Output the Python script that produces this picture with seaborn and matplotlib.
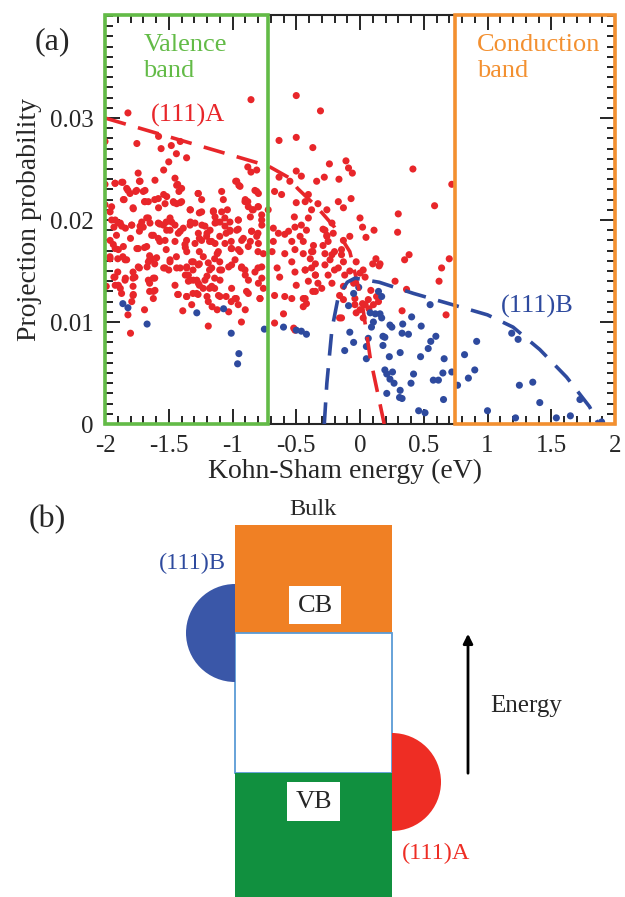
import numpy as np
import pandas as pd
import matplotlib
matplotlib.use("Agg")
import matplotlib.pyplot as plt
from matplotlib.patches import Rectangle, Wedge
from matplotlib.ticker import MultipleLocator
import seaborn as sns

# ---- data (panel a) ----
red_x = [
    -1.82, -2.0, -1.75, -1.58, -1.56, -1.48, -1.41, -1.44, -1.36, -1.50, -1.54, -1.74, -1.43, -1.92, -1.86,
    -1.73, -1.82, -1.76, -1.70, -1.85, -1.27, -1.42, -1.54, -1.69, -1.61, -1.46, -1.41, -1.78, -1.58, -1.33,
    -1.26, -1.15, -1.96, -1.92, -1.88, -1.49, -1.52, -1.57, -1.66, -1.70, -1.79, -1.84, -1.93, -1.33, -1.24,
    -1.12, -1.06, -1.20, -1.41, -1.49, -1.62, -1.73, -1.91, -1.96, -1.36, -1.26, -1.18, -1.10, -1.05, -1.80,
    -1.57, -1.92, -1.75, -1.69, -1.52, -1.37, -1.26, -1.12, -1.86, -1.65, -1.44, -2.0, -2.0,
    # lower-left block
    -1.96, -1.90, -1.83, -1.65, -1.61, -1.49, -1.32, -1.26, -1.14, -1.10, -1.90, -1.78, -1.73, -1.67, -1.54,
    -1.50, -1.41, -1.36, -1.31, -1.18, -1.10, -1.93, -1.84, -1.78, -1.61, -1.37, -1.33, -1.28, -1.20, -1.14,
    -1.99, -1.92, -1.88, -1.78, -1.65, -1.62, -1.65, -1.26, -1.23, -1.18, -1.14, -1.87, -1.43, -1.36, -1.31,
    -1.27, -1.20, -1.11, -1.05, -1.78, -1.79, -1.19, -1.32, -1.16, -1.12, -1.69, -1.39, -1.82, -1.19, -1.80,
    -2.0,
    # middle upper block
    -0.855, -0.50, -0.31, -0.635, -0.50, -0.37, -0.88, -0.855, -0.81, -0.975, -0.95, -0.635, -0.50, -0.46,
    -0.55, -0.34, -0.28, -0.24, -0.165, -0.11, -0.09, -0.06, -0.81, -0.67, -0.615, -0.405, -0.90, -0.88,
    -0.50, -0.43, -0.38, -0.33, -0.26, -0.17, -0.07, -0.13, -0.80, -0.845, -0.72, -1.04, -0.86, -0.955,
    -1.02, -0.77, -0.515, -0.405, -0.22, -1.02, -0.955, -0.85, -0.80, -0.68, -0.64, -0.59, -0.56, -0.51,
    -0.46, -0.47, -0.275, -0.26, -0.21, -0.13, -0.08, -1.01, -0.915, -0.86, -0.68, -0.535, -0.445, -0.365,
    -0.29, -1.01, -0.94, -0.80, -0.69, -0.59, -0.51, -0.38, -0.20, -0.145,
    # middle lower block
    -1.03, -0.98, -0.93, -0.90, -0.875, -0.80, -0.77, -0.89, -0.97, -1.01, -0.955, -0.90, -0.93, -0.785,
    -1.03, -0.65, -0.63, -0.535, -0.51, -0.43, -0.38, -0.35, -0.275, -0.25, -0.17, -0.12, -0.67, -0.59,
    -0.535, -0.43, -0.445, -0.35, -0.30, -0.50, -0.60, -0.67, -0.52, -0.16, -0.51,
    -0.42, -0.29, -0.26, -0.25, -0.37, -0.445, -0.39, -0.35, -0.275, -0.22, -0.235, -0.145, -0.13, -0.20,
    -0.43, -0.35, -0.405, -0.33, -0.37, -0.445, -0.42, -0.16, -0.13, -0.22, -0.08, -0.05, 0.0, -0.13,
    -0.04, 0.02, -0.145, 0.10, 0.085, 0.15, 0.065, 0.0, 0.07,
    # right side
    0.415, 0.72, 0.585, 0.30, 0.295, 0.0, 0.02, 0.11, 0.047, 0.125, 0.385, 0.35, 0.70, -0.03, 0.157,
    0.025, 0.04, 0.13, 0.145, -0.04, 0.04, 0.105, -0.03, 0.025, 0.64, 0.62, 0.675, 0.275, 0.365, 0.33,
]
red_y = [
    0.0305, 0.0277, 0.0275, 0.0282, 0.0270, 0.0273, 0.0277, 0.0265, 0.0261, 0.0257, 0.0249, 0.0246, 0.0235, 0.0236, 0.0237,
    0.0238, 0.0229, 0.0228, 0.0228, 0.0220, 0.0226, 0.0228, 0.0225, 0.0218, 0.0220, 0.0217, 0.0217, 0.0212, 0.0212, 0.0210,
    0.0207, 0.0209, 0.0208, 0.0200, 0.0197, 0.0202, 0.0198, 0.0196, 0.0202, 0.0193, 0.0195, 0.0192, 0.0193, 0.0198, 0.0195,
    0.0198, 0.0202, 0.0187, 0.0189, 0.0190, 0.0185, 0.0189, 0.0185, 0.0180, 0.0180, 0.0182, 0.0179, 0.0184, 0.0187, 0.0182,
    0.0179, 0.0172, 0.0172, 0.0173, 0.0171, 0.0173, 0.0169, 0.0167, 0.0164, 0.0165, 0.0164, 0.0235, 0.0215,
    0.0162, 0.0162, 0.0161, 0.0161, 0.0157, 0.0161, 0.0159, 0.0157, 0.0162, 0.0159, 0.0149, 0.0149, 0.0153, 0.0154, 0.0153,
    0.0151, 0.0153, 0.0153, 0.0151, 0.0151, 0.0151, 0.0144, 0.0143, 0.0143, 0.0143, 0.0146, 0.0141, 0.0141, 0.0145, 0.0143,
    0.0135, 0.0136, 0.0133, 0.0135, 0.0138, 0.0130, 0.0130, 0.0136, 0.0133, 0.0133, 0.0133, 0.0128, 0.0127, 0.0125, 0.0128,
    0.0127, 0.0125, 0.0126, 0.0125, 0.0126, 0.0120, 0.0120, 0.0117, 0.0115, 0.0112, 0.0112, 0.0111, 0.0107, 0.0096, 0.0089,
    0.0135,
    0.0318, 0.0322, 0.0307, 0.0278, 0.0281, 0.0271, 0.0252, 0.0247, 0.0249, 0.0238, 0.0234, 0.0242, 0.0248, 0.0243,
    0.0238, 0.0238, 0.0242, 0.0255, 0.0240, 0.0258, 0.0251, 0.0246, 0.0228, 0.0228, 0.0225, 0.0225, 0.0220, 0.0218,
    0.0217, 0.0218, 0.0210, 0.0216, 0.0210, 0.0218, 0.0221, 0.0212, 0.0213, 0.0210, 0.0210, 0.0210, 0.0203, 0.0200,
    0.0198, 0.0195, 0.0203, 0.0202, 0.0197, 0.0190, 0.0191, 0.0189, 0.0187, 0.0192, 0.0187, 0.0186, 0.0189, 0.0193,
    0.0195, 0.0184, 0.0190, 0.0184, 0.0187, 0.0180, 0.0184, 0.0179, 0.0182, 0.0179, 0.0179, 0.0179, 0.0179, 0.0175,
    0.0175, 0.0172, 0.0169, 0.0169, 0.0169, 0.0167, 0.0171, 0.0169, 0.0169, 0.0166,
    0.0154, 0.0161, 0.0153, 0.0146, 0.0141, 0.0153, 0.0143, 0.0130, 0.0123, 0.0120, 0.0117, 0.0112, 0.0100, 0.0123,
    0.0110, 0.0153, 0.0144, 0.0159, 0.0149, 0.0151, 0.0153, 0.0146, 0.0156, 0.0146, 0.0153, 0.0146, 0.0126, 0.0125,
    0.0123, 0.0123, 0.0115, 0.0130, 0.0133, 0.0136, 0.0108, 0.0099, 0.0094, 0.0104, 0.0092,
    0.0190, 0.0191, 0.0185, 0.0179, 0.0169, 0.0167, 0.0162, 0.0157, 0.0167, 0.0166, 0.0161, 0.0171, 0.0159, 0.0151,
    0.0151, 0.0146, 0.0140, 0.0138, 0.0130, 0.0123, 0.0118, 0.0126, 0.0122, 0.0138, 0.0150, 0.0138, 0.0148, 0.0135,
    0.0123, 0.0118, 0.0104, 0.0157, 0.0131, 0.0155, 0.0122, 0.0112, 0.0113,
    0.0250, 0.0235, 0.0214, 0.0206, 0.0188, 0.0202, 0.0193, 0.0190, 0.0183, 0.0162, 0.0166, 0.0161, 0.0162, 0.0159, 0.0157,
    0.0151, 0.0144, 0.0125, 0.0120, 0.0117, 0.0117, 0.0117, 0.0109, 0.0104, 0.0153, 0.0140, 0.0107, 0.0140, 0.0132, 0.0111,
]

# extra points from the dense part of the valence window
red_dense_x = [
    -1.922, -1.869, -1.830, -1.804, -1.752, -1.725, -1.686, -1.608, -1.451, -1.438, -1.399, -1.268, -1.242,
    -1.085, -1.072, -0.967, -0.941, -0.824, -0.797,
    -1.948, -1.856, -1.778, -1.686, -1.660, -1.582, -1.529, -1.516, -1.464, -1.438, -1.399, -1.333, -1.242,
    -1.150, -1.137, -1.085, -0.902, -0.876, -0.837, -0.797, -0.771,
    -1.948, -1.895, -1.869, -1.791, -1.725, -1.712, -1.673, -1.647, -1.582, -1.542, -1.516, -1.477, -1.451,
    -1.386, -1.333, -1.294, -1.268, -1.216, -1.176, -1.137, -1.098, -1.059, -1.020, -0.967, -0.954, -0.850,
    -0.810, -0.771,
    -1.935, -1.895, -1.856, -1.739, -1.673, -1.634, -1.582, -1.529, -1.451, -1.425, -1.373, -1.359, -1.294,
    -1.242, -1.203, -1.163, -1.137, -1.111, -1.059, -1.007, -0.954, -0.928, -0.876, -0.797, -0.758, -1.961,
    -1.843,
    -1.739, -1.660, -1.634, -1.595, -1.529, -1.490, -1.438, -1.359, -1.307, -1.268, -1.229, -1.190, -1.163,
    -1.085, -1.007, -0.928, -0.902, -0.824, -0.771, -1.765, -1.922, -1.346,
    -1.895, -1.843, -1.660, -1.621, -1.608, -1.451, -1.346, -1.307, -1.268, -1.216, -1.163, -1.098, -1.007,
    -0.980, -0.876, -0.797, -0.758, -1.778, -1.621, -1.425, -1.359, -1.281, -1.098, -0.784,
]
red_dense_y = [
    0.0236, 0.0237, 0.0231, 0.0226, 0.0229, 0.0238, 0.0229, 0.0239, 0.0241, 0.0234, 0.0231, 0.0226, 0.0220,
    0.0228, 0.0220, 0.0238, 0.0233, 0.0229, 0.0226,
    0.0213, 0.0220, 0.0211, 0.0218, 0.0218, 0.0221, 0.0216, 0.0223, 0.0218, 0.0216, 0.0218, 0.0210, 0.0208,
    0.0208, 0.0203, 0.0208, 0.0218, 0.0213, 0.0210, 0.0213, 0.0205,
    0.0200, 0.0197, 0.0194, 0.0195, 0.0194, 0.0198, 0.0202, 0.0197, 0.0197, 0.0195, 0.0190, 0.0198, 0.0195,
    0.0192, 0.0195, 0.0197, 0.0187, 0.0194, 0.0190, 0.0197, 0.0198, 0.0194, 0.0189, 0.0190, 0.0200, 0.0189,
    0.0184, 0.0200,
    0.0176, 0.0171, 0.0174, 0.0172, 0.0174, 0.0185, 0.0182, 0.0180, 0.0179, 0.0187, 0.0176, 0.0169, 0.0177,
    0.0180, 0.0184, 0.0179, 0.0177, 0.0169, 0.0177, 0.0172, 0.0171, 0.0180, 0.0174, 0.0177, 0.0167, 0.0164,
    0.0161,
    0.0154, 0.0159, 0.0162, 0.0163, 0.0153, 0.0159, 0.0153, 0.0154, 0.0159, 0.0156, 0.0164, 0.0158, 0.0153,
    0.0151, 0.0156, 0.0154, 0.0151, 0.0149, 0.0154, 0.0144, 0.0144, 0.0146,
    0.0136, 0.0141, 0.0141, 0.0143, 0.0131, 0.0136, 0.0140, 0.0141, 0.0138, 0.0141, 0.0135, 0.0141, 0.0133,
    0.0123, 0.0128, 0.0138, 0.0133, 0.0127, 0.0123, 0.0127, 0.0125, 0.0128, 0.0125, 0.0123,
]

blue_x = [
    -1.86, -1.82, -1.67, -1.28, -1.07, -1.01, -0.95, -0.96, -0.75, -0.60, -0.50, -0.46, -0.42,
    -0.09, -0.08, -0.05, -0.12, -0.01, -0.05, 0.145, 0.17, 0.55, 0.405, 0.48, 0.335, 0.33, 0.38, 0.235,
    0.25, 0.08, 0.12, 0.157, 0.17, 0.105, 0.09, 0.18, 0.195, 0.065, 0.05, 0.05, 0.18, 0.23, 0.315, 0.475,
    0.535, 0.555, 0.595, 0.66, 0.195, 0.21, 0.255, 0.235, 0.267, 0.315, 0.31, 0.33, 0.21, 0.42, 0.40,
    0.575, 0.615, 0.65, 0.72, 0.655, 0.46, 0.51, 0.765, 0.82, 0.90, 0.915, 0.85, 1.0, 1.19, 1.24, 1.25,
    1.355, 1.41, 1.22, 1.54, 1.65, 1.725, 1.895,
]
blue_y = [
    0.0118, 0.0114, 0.0098, 0.0109, 0.0113, 0.0089, 0.0069, 0.0059, 0.0093, 0.0095, 0.0092, 0.0091, 0.0088,
    0.0116, 0.0090, 0.0080, 0.0072, 0.0134, 0.0128, 0.0130, 0.0125, 0.0117, 0.0105, 0.0096, 0.0098, 0.0089, 0.0088, 0.0097,
    0.0095, 0.0109, 0.0108, 0.0108, 0.0104, 0.0100, 0.0095, 0.0086, 0.0085, 0.0084, 0.0076, 0.0064, 0.0077, 0.0066, 0.0070, 0.0066,
    0.0074, 0.0081, 0.0086, 0.0064, 0.0053, 0.0049, 0.0051, 0.0044, 0.0040, 0.0033, 0.0026, 0.0025, 0.0030, 0.0049, 0.0040,
    0.0043, 0.0043, 0.0050, 0.0051, 0.0024, 0.0013, 0.0011, 0.0038, 0.0068, 0.0053, 0.0081, 0.0045, 0.0013, 0.0089, 0.0083, 0.0038,
    0.0041, 0.0021, 0.0006, 0.0006, 0.0008, 0.0024, 0.0002,
]

# hand-drawn guide lines
guide_a_x = [-2.0, -0.72, -0.55, -0.49, -0.34, -0.20, -0.08, 0.015, 0.08, 0.19]
guide_a_y = [0.0300, 0.0253, 0.0241, 0.0231, 0.0213, 0.0193, 0.0169, 0.0120, 0.0065, 0.0]
guide_b_x = [-0.28, -0.26, -0.22, -0.17, -0.10, -0.04, 0.15, 0.42, 0.78, 1.0, 1.2, 1.41, 1.62, 1.80, 1.87]
guide_b_y = [0.0, 0.0040, 0.0093, 0.0125, 0.0139, 0.0143, 0.0139, 0.0128, 0.0115, 0.0107, 0.0095, 0.0073, 0.0046, 0.0017, 0.0]

x_ticks = [-2, -1.5, -1, -0.5, 0, 0.5, 1, 1.5, 2]
x_tick_labels = ["-2", "-1.5", "-1", "-0.5", "0", "0.5", "1", "1.5", "2"]
y_ticks = [0, 0.01, 0.02, 0.03]
y_tick_labels = ["0", "0.01", "0.02", "0.03"]

valence_range = (-2.0, -0.72)
conduction_range = (0.745, 2.0)

RED = "#e8262a"
BLUE = "#2e4a9e"
GREEN = "#63bb47"
ORANGE = "#f39030"

sns.set_style("ticks")
plt.rcParams["font.family"] = ["Liberation Serif", "DejaVu Serif"]
plt.rcParams["axes.unicode_minus"] = False

fig = plt.figure(figsize=(6.25, 8.97), dpi=100)
ax = fig.add_axes([105 / 625, 1 - 424 / 897, 510 / 625, 409 / 897])

df = pd.concat([
    pd.DataFrame({"energy": red_x + red_dense_x, "prob": red_y + red_dense_y, "facet": "(111)A"}),
    pd.DataFrame({"energy": blue_x, "prob": blue_y, "facet": "(111)B"}),
])
sns.scatterplot(data=df, x="energy", y="prob", hue="facet",
                palette={"(111)A": RED, "(111)B": BLUE},
                s=26, linewidth=0, legend=False, ax=ax, zorder=3)

sns.lineplot(x=guide_a_x, y=guide_a_y, sort=False, estimator=None, color=RED,
             lw=2.6, ax=ax, zorder=4).lines[-1].set_dashes([6, 3.5])
sns.lineplot(x=guide_b_x, y=guide_b_y, sort=False, estimator=None, color=BLUE,
             lw=2.6, ax=ax, zorder=4).lines[-1].set_dashes([6, 3.5])

ax.set_xlim(-2, 2)
ax.set_ylim(0, 0.0401)
ax.set_xticks(x_ticks)
ax.set_xticklabels(x_tick_labels)
ax.set_yticks(y_ticks)
ax.set_yticklabels(y_tick_labels)
ax.xaxis.set_minor_locator(MultipleLocator(0.1))
ax.yaxis.set_minor_locator(MultipleLocator(0.001))
ax.tick_params(which="both", direction="in", top=True, right=True,
               labelsize=18, width=1.2, color="black")
ax.tick_params(which="major", length=11, pad=8)
ax.tick_params(which="minor", length=6)
for sp in ax.spines.values():
    sp.set_linewidth(1.5)
ax.set_xlabel("Kohn-Sham energy (eV)", fontsize=20, labelpad=0)
ax.xaxis.set_label_coords(0.47, -0.085)
ax.set_ylabel("Projection probability", fontsize=20, labelpad=6)

# band windows
top = ax.get_ylim()[1]
ax.add_patch(Rectangle((valence_range[0], 0), valence_range[1] - valence_range[0], top,
                       fill=False, ec=GREEN, lw=2.6, clip_on=False, zorder=5))
ax.add_patch(Rectangle((conduction_range[0], 0), conduction_range[1] - conduction_range[0], top,
                       fill=False, ec=ORANGE, lw=2.6, clip_on=False, zorder=5))
ax.text(-1.70, 0.0382, "Valence\nband", color=GREEN, fontsize=19, va="top", ha="left", linespacing=1.2)
ax.text(0.92, 0.0382, "Conduction\nband", color=ORANGE, fontsize=19, va="top", ha="left", linespacing=1.2)
ax.text(-1.35, 0.0303, "(111)A", color=RED, fontsize=19, ha="center", va="center")
ax.text(1.39, 0.0115, "(111)B", color=BLUE, fontsize=19, ha="center", va="center")

fig.text(52 / 625, 1 - 42 / 897, "(a)", fontsize=23, ha="center", va="center")
fig.text(47 / 625, 1 - 520 / 897, "(b)", fontsize=23, ha="center", va="center")

# ---- panel b: schematic (pixel coordinates) ----
bx = fig.add_axes([0, 0, 1, 1 - 470 / 897])
bx.set_xlim(0, 625)
bx.set_ylim(897, 470)
bx.axis("off")

col_left, col_right = 235, 392
cb_top, gap_top, gap_bot, vb_bot = 525, 633, 773, 897
w = col_right - col_left
bx.add_patch(Rectangle((col_left, cb_top), w, gap_top - cb_top, fc="#f08024", ec="none"))
bx.add_patch(Rectangle((col_left, gap_top), w, gap_bot - gap_top, fc="white", ec="#5b9bd5", lw=1.3))
bx.add_patch(Rectangle((col_left, gap_bot), w, vb_bot - gap_bot, fc="#11903f", ec="none"))
bx.add_patch(Wedge((col_left, 633), 49, 90, 270, fc="#3a57a8", ec="none"))
bx.add_patch(Wedge((col_right, 782), 49, -90, 90, fc="#ee2d24", ec="none"))
bx.add_patch(Rectangle((289, 586), 52, 38, fc="white", ec="none"))
bx.add_patch(Rectangle((287, 782), 53, 39, fc="white", ec="none"))
bx.text(315, 606, "CB", fontsize=19, ha="center", va="center")
bx.text(314, 802, "VB", fontsize=19, ha="center", va="center")
bx.text(313, 509, "Bulk", fontsize=17.5, ha="center", va="center")
bx.text(192, 563, "(111)B", fontsize=17.5, ha="center", va="center", color=BLUE)
bx.text(436, 853, "(111)A", fontsize=17.5, ha="center", va="center", color="#ee2d24")
bx.text(490, 706, "Energy", fontsize=18, ha="left", va="center")
bx.annotate("", xy=(468, 631), xytext=(468, 776),
            arrowprops=dict(arrowstyle="-|>", color="black", lw=2, mutation_scale=14))

fig.savefig("out.png", dpi=100)
